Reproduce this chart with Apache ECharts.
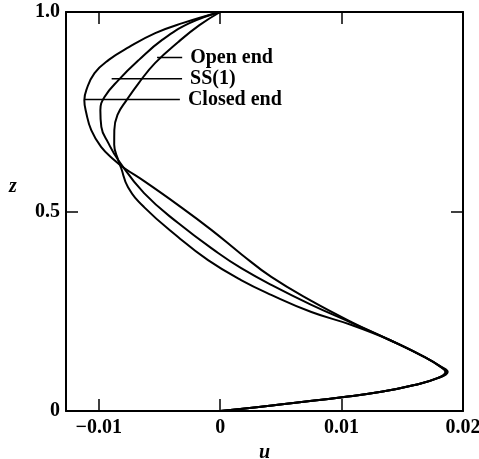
<!DOCTYPE html>
<html>
<head>
<meta charset="utf-8">
<script src="https://cdn.jsdelivr.net/npm/echarts@6/dist/echarts.min.js"></script>
<style>
  html, body { margin: 0; padding: 0; background: #fff; }
  #chart { width: 479px; height: 459px; }
</style>
</head>
<body>
<div id="chart"></div>
<script>
// Velocity profiles u(z) for three end conditions
const closedU = [0, -0.00311, -0.00535, -0.00752, -0.00918, -0.01035, -0.01102, -0.01119, -0.01103, -0.01062, -0.00981, -0.00873, -0.00791, -0.00626, -0.00346, -0.00073, 0.00174, 0.00421, 0.00751, 0.01082, 0.01396, 0.01685, 0.01825, 0.01874, 0.01800, 0.01600, 0.01327, 0.01020, 0.00390, 0];
const closedZ = [1.0, 0.972, 0.947, 0.912, 0.880, 0.847, 0.805, 0.779, 0.747, 0.704, 0.662, 0.629, 0.609, 0.576, 0.516, 0.454, 0.393, 0.336, 0.276, 0.223, 0.178, 0.135, 0.110, 0.098, 0.083, 0.065, 0.048, 0.035, 0.0125, 0];

const ssU = [0, -0.00253, -0.00478, -0.00669, -0.00836, -0.00953, -0.00987, -0.00979, -0.00922, -0.00840, -0.00627, -0.00346, -0.00017, 0.00173, 0.00421, 0.00751, 0.01082, 0.01396, 0.01685, 0.01822, 0.01864, 0.01796, 0.01600, 0.01327, 0.01020, 0.00390, 0];
const ssZ = [1.0, 0.972, 0.930, 0.880, 0.830, 0.787, 0.754, 0.712, 0.672, 0.629, 0.546, 0.471, 0.396, 0.358, 0.316, 0.266, 0.221, 0.178, 0.135, 0.110, 0.098, 0.083, 0.065, 0.048, 0.035, 0.0125, 0];

const openU = [0, -0.00171, -0.00345, -0.00537, -0.00671, -0.00771, -0.00846, -0.00872, -0.00873, -0.00840, -0.00816, -0.00759, -0.00627, -0.00347, -0.00100, 0.00172, 0.00420, 0.00751, 0.01082, 0.01396, 0.01685, 0.01818, 0.01855, 0.01792, 0.01600, 0.01327, 0.01020, 0.00390, 0];
const openZ = [1.0, 0.967, 0.925, 0.872, 0.822, 0.779, 0.742, 0.704, 0.667, 0.629, 0.609, 0.561, 0.511, 0.436, 0.378, 0.328, 0.291, 0.248, 0.2155, 0.178, 0.135, 0.110, 0.098, 0.083, 0.065, 0.048, 0.035, 0.0125, 0];

// Curve labels with their leader lines (u start, u end, z)
const curveNames = ['Open end', 'SS(1)', 'Closed end'];
const leaderU0 = [-0.00520, -0.00894, -0.01119];
const leaderU1 = [-0.00313, -0.00314, -0.00332];
const leaderZ = [0.886, 0.833, 0.781];

// Axis ticks and labels
const xTicks = [-0.01, 0, 0.01, 0.02];
const xTickLabels = ['\u22120.01', '0', '0.01', '0.02'];
const yTicks = [0, 0.5, 1.0];
const yTickLabels = ['0', '0.5', '1.0'];

const FONT = '"Liberation Serif", "DejaVu Serif", serif';
const ink = '#000';

function pairs(us, zs) { return us.map((u, i) => [u, zs[i]]); }

const curveStyle = {
  type: 'line', smooth: 0.45, symbol: 'none',
  lineStyle: { color: ink, width: 2 }, silent: true
};

const series = [
  Object.assign({ name: 'Closed end', data: pairs(closedU, closedZ) }, curveStyle),
  Object.assign({ name: 'SS(1)', data: pairs(ssU, ssZ) }, curveStyle),
  Object.assign({ name: 'Open end', data: pairs(openU, openZ) }, curveStyle)
];

curveNames.forEach((name, i) => {
  series.push({
    type: 'line', symbol: 'none', silent: true,
    lineStyle: { color: ink, width: 1.5 },
    data: [[leaderU0[i], leaderZ[i]], [leaderU1[i], leaderZ[i]]],
    endLabel: {
      show: true, formatter: name, distance: 8,
      color: ink, fontFamily: FONT, fontWeight: 'bold', fontSize: 20
    }
  });
});

const axisLine = { show: true, onZero: false, lineStyle: { color: ink, width: 2 } };
const tickStyle = { show: true, inside: true, length: 12, lineStyle: { color: ink, width: 1.5 } };
const labelFont = { color: ink, fontFamily: FONT, fontWeight: 'bold', fontSize: 20 };

const chart = echarts.init(document.getElementById('chart'), null, { renderer: 'canvas' });
chart.setOption({
  animation: false,
  backgroundColor: '#fff',
  grid: { left: 66, right: 16, top: 12, bottom: 48, outerBoundsMode: 'none', containLabel: false },
  xAxis: [
    {
      type: 'value', position: 'bottom', min: -0.0127, max: 0.02,
      axisLine: axisLine, splitLine: { show: false },
      axisTick: Object.assign({ customValues: xTicks }, tickStyle),
      axisLabel: Object.assign({
        customValues: xTicks, margin: 7,
        formatter: v => xTickLabels[xTicks.findIndex(t => Math.abs(t - v) < 1e-9)]
      }, labelFont),
      name: 'u', nameLocation: 'middle', nameGap: 30,
      nameTextStyle: { color: ink, fontFamily: FONT, fontStyle: 'italic', fontWeight: 'bold', fontSize: 20 }
    },
    {
      type: 'value', position: 'top', min: -0.0127, max: 0.02,
      axisLine: axisLine, splitLine: { show: false },
      axisTick: Object.assign({ customValues: xTicks }, tickStyle),
      axisLabel: { show: false }
    }
  ],
  yAxis: [
    {
      type: 'value', position: 'left', min: 0, max: 1,
      axisLine: axisLine, splitLine: { show: false },
      axisTick: Object.assign({ customValues: [0.5] }, tickStyle),
      axisLabel: Object.assign({
        customValues: yTicks, margin: 6,
        formatter: v => yTickLabels[yTicks.findIndex(t => Math.abs(t - v) < 1e-9)]
      }, labelFont)
    },
    {
      type: 'value', position: 'right', min: 0, max: 1,
      axisLine: axisLine, splitLine: { show: false },
      axisTick: Object.assign({ customValues: [0.5] }, tickStyle),
      axisLabel: { show: false }
    }
  ],
  graphic: [{
    type: 'text', left: 9, top: 177,
    style: { text: 'z', fill: ink, font: 'italic bold 20px ' + FONT }
  }],
  series: series
});
</script>
</body>
</html>
